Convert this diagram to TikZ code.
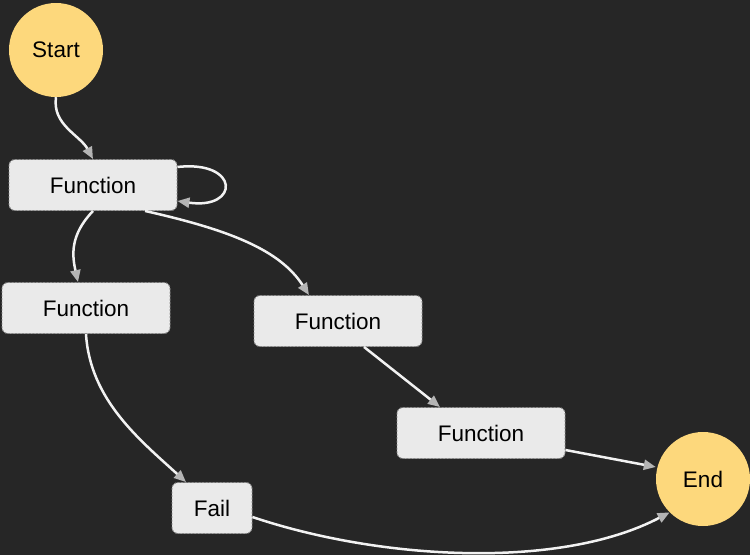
\documentclass[tikz,border=0pt]{standalone}
\usepackage{fontspec}
\setmainfont{Liberation Sans}
\usetikzlibrary{arrows.meta}
\definecolor{bg}{HTML}{262626}
\definecolor{boxfill}{HTML}{EAEAEA}
\definecolor{boxline}{HTML}{8A8A8A}
\definecolor{term}{HTML}{FDD87C}
\definecolor{wire}{HTML}{F2F2F2}
\definecolor{tip}{HTML}{B4B4B4}
\begin{document}
\begin{tikzpicture}[x=1pt,y=-1pt,
  task/.style={draw=boxline, dashed, dash pattern=on 2pt off 1.5pt, line width=0.9pt,
    fill=boxfill, rounded corners=6pt, minimum width=168pt, minimum height=51pt,
    inner sep=0pt, font=\fontsize{22.5}{26}\selectfont},
  terminal/.style={circle, fill=term, minimum size=94pt, inner sep=0pt,
    font=\fontsize{22.5}{26}\selectfont},
  flow/.style={draw=wire, line width=2.5pt,
    -{Triangle[length=12pt,width=10pt,fill=tip,color=tip]}}]
\useasboundingbox (0,0) rectangle (750,555);
\fill[bg] (0,0) rectangle (750,555);

\node[terminal] (start) at (56,50) {Start};
\node[task] (f1) at (93,185) {Function};
\node[task] (f2) at (86,308) {Function};
\node[task] (f3) at (338,321) {Function};
\node[task] (f4) at (481,433) {Function};
\node[task, minimum width=80pt] (fail) at (212,508) {Fail};
\node[terminal] (end) at (703,479) {End};

\draw[flow] (start.south) .. controls (52,125) and (80,135) .. (f1.north);
\draw[flow] (f1.east |- 0,167) .. controls (240,160) and (240,210) .. (f1.east |- 0,201);
\draw[flow] (f1.south) .. controls (70,235) and (72,255) .. (f2.north -| 78,0);
\draw[flow] (f1.south -| 145,0) .. controls (230,230) and (280,250) .. (f3.north -| 309,0);
\draw[flow] (f2.south) .. controls (90,400) and (140,440) .. (fail.north -| 186,0);
\draw[flow] (f3.south -| 364,0) -- (f4.north -| 440,0);
\draw[flow] (f4.east |- 0,450) -- (end.west |- 0,467);
\draw[flow] (fail.east |- 0,517) .. controls (380,560) and (560,570) .. (end.south west);
\end{tikzpicture}
\end{document}
